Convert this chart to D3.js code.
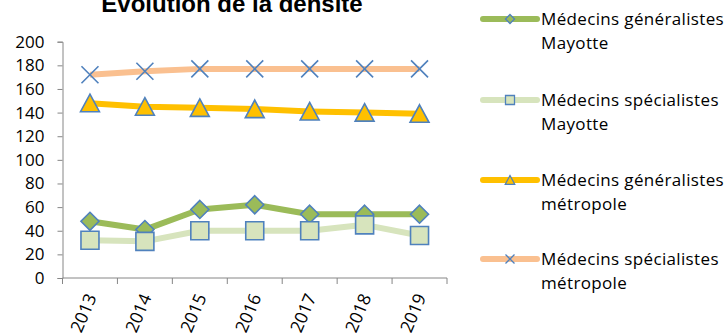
<!DOCTYPE html>
<html>
<head>
<meta charset="utf-8">
<script src="https://cdn.jsdelivr.net/npm/d3@7/dist/d3.min.js"></script>
<style>
  html, body { margin: 0; padding: 0; background: #fff; }
  svg { display: block; }
  .tick text { font-family: "Open Sans", sans-serif; font-size: 17px; fill: #000; }
</style>
</head>
<body>
<div id="chart"></div>
<script>
// Densité de médecins (pour 100 000 habitants), 2013–2019
const years = ["2013", "2014", "2015", "2016", "2017", "2018", "2019"];
const generalistesMayotte = [48, 41, 58, 62, 54, 54, 54];
const specialistesMayotte = [32, 31, 40, 40, 40, 45, 36];
const generalistesMetropole = [148, 145, 144, 143, 141, 140, 139];
const specialistesMetropole = [172, 175, 177, 177, 177, 177, 177];
const yTicks = [0, 20, 40, 60, 80, 100, 120, 140, 160, 180, 200];
const seriesNames = [
  ["Médecins généralistes", "Mayotte"],
  ["Médecins spécialistes", "Mayotte"],
  ["Médecins généralistes", "métropole"],
  ["Médecins spécialistes", "métropole"]
];
const titleText = "Évolution de la densité";

const W = 728, H = 333;
const svg = d3.select("#chart").append("svg").attr("width", W).attr("height", H);

const x = d3.scaleBand().domain(years).range([62.5, 447]).padding(0);
const y = d3.scaleLinear().domain([0, 200]).range([278, 41.7]);
const cx = d => x(d) + x.bandwidth() / 2;

const axisColor = "#868686";
const markerStroke = "#4F81BD";

// Marker shapes, centred on (0,0)
function markerPath(kind, s) {
  const h = s / 2, p = d3.path();
  if (kind === "diamond") {
    p.moveTo(0, -h); p.lineTo(h, 0); p.lineTo(0, h); p.lineTo(-h, 0); p.closePath();
  } else if (kind === "square") {
    p.rect(-h, -h, s, s);
  } else if (kind === "triangle") {
    p.moveTo(0, -h); p.lineTo(h * 1.05, h * 0.95); p.lineTo(-h * 1.05, h * 0.95); p.closePath();
  } else if (kind === "x") {
    p.moveTo(-h, -h); p.lineTo(h, h); p.moveTo(h, -h); p.lineTo(-h, h);
  }
  return p.toString();
}

const series = [
  { values: generalistesMayotte, line: "#9BBB59", fill: "#9BBB59", marker: "diamond", size: 18 },
  { values: specialistesMayotte, line: "#D7E4BD", fill: "#D7E4BD", marker: "square", size: 18 },
  { values: generalistesMetropole, line: "#FFC000", fill: "#FFC000", marker: "triangle", size: 18 },
  { values: specialistesMetropole, line: "#FAC090", fill: "none", marker: "x", size: 17 }
];

// Title (sits partly above the top edge)
svg.append("text")
  .attr("x", 232).attr("y", 12)
  .attr("text-anchor", "middle")
  .style("font-family", "'Liberation Sans', Arial, sans-serif")
  .style("font-weight", "bold")
  .style("font-size", "24px")
  .text(titleText);

// Y axis
const yAxis = svg.append("g")
  .attr("transform", "translate(62.5,0)")
  .call(d3.axisLeft(y).tickValues(yTicks).tickSize(5).tickPadding(13).tickFormat(d3.format("d")));
yAxis.select(".domain").attr("stroke", axisColor);
yAxis.selectAll(".tick line").attr("stroke", axisColor);

// X axis: ticks at category boundaries
const xAxis = svg.append("g").attr("transform", "translate(0,278)");
xAxis.append("line")
  .attr("x1", x.range()[0]).attr("x2", x.range()[1])
  .attr("stroke", axisColor);
const boundaries = years.map(d => x(d)).concat([x.range()[1]]);
xAxis.selectAll("line.bt").data(boundaries).enter().append("line")
  .attr("class", "bt")
  .attr("x1", d => d).attr("x2", d => d)
  .attr("y1", 0).attr("y2", 6)
  .attr("stroke", axisColor);
xAxis.selectAll("text").data(years).enter().append("text")
  .attr("transform", d => `translate(${cx(d) + 7},${19}) rotate(-67)`)
  .attr("text-anchor", "end")
  .style("font-family", "'Open Sans', sans-serif")
  .style("font-size", "17.5px")
  .text(d => d);

// Lines, then markers
const line = d3.line().x((v, i) => cx(years[i])).y(v => y(v));
series.forEach(s => {
  svg.append("path")
    .attr("d", line(s.values))
    .attr("fill", "none")
    .attr("stroke", s.line)
    .attr("stroke-width", 6)
    .attr("stroke-linejoin", "round");
});
series.forEach(s => {
  svg.append("g").selectAll("path").data(s.values).enter().append("path")
    .attr("transform", (v, i) => `translate(${cx(years[i])},${y(v)})`)
    .attr("d", markerPath(s.marker, s.size))
    .attr("fill", s.fill)
    .attr("stroke", markerStroke)
    .attr("stroke-width", 1.6)
    .attr("stroke-linejoin", "miter");
});

// Legend
const legendY = [19, 100, 180, 259];
const legend = svg.append("g");
series.forEach((s, i) => {
  const g = legend.append("g").attr("transform", `translate(0,${legendY[i]})`);
  g.append("line").attr("x1", 483).attr("x2", 537).attr("y1", 0).attr("y2", 0)
    .attr("stroke", s.line).attr("stroke-width", 6).attr("stroke-linecap", "round");
  g.append("path").attr("transform", "translate(510,0)")
    .attr("d", markerPath(s.marker, 9))
    .attr("fill", s.fill).attr("stroke", markerStroke).attr("stroke-width", 1.3);
  const t = g.append("text")
    .attr("x", 541).attr("y", 5.5)
    .style("font-family", "'Open Sans', sans-serif")
    .style("font-size", "17px")
    .style("letter-spacing", "0.35px")
    .attr("fill", "#000");
  seriesNames[i].forEach((ln, j) => {
    t.append("tspan").attr("x", 541).attr("dy", j === 0 ? 0 : 24).text(ln);
  });
});
</script>
</body>
</html>
